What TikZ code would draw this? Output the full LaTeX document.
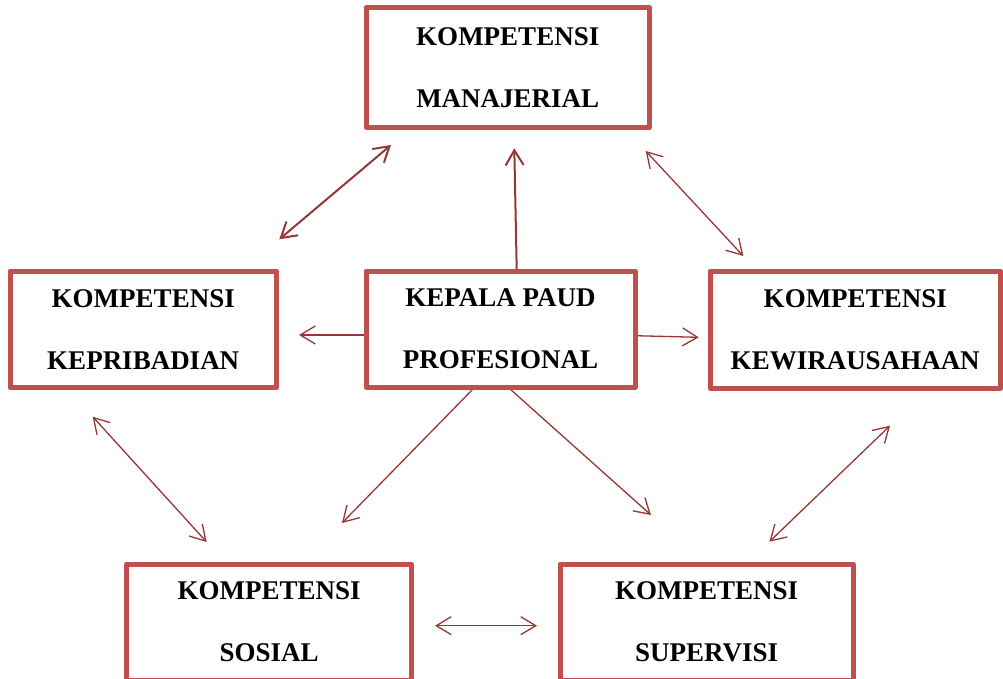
\documentclass[tikz,border=0pt]{standalone}
\usepackage{fontspec}
\setmainfont{Liberation Serif}
\usetikzlibrary{arrows.meta}
\definecolor{boxred}{HTML}{C0504D}
\definecolor{arrred}{HTML}{953735}
\tikzset{
  kbox/.style={draw=boxred, line width=5pt, line join=round, rectangle, inner sep=0pt, align=center,
    font={\fontsize{27pt}{62pt}\selectfont\bfseries}, text=black, fill=white},
  conn/.style={draw=arrred, line width=1.3pt},
  thickconn/.style={draw=arrred, line width=2pt},
  tipend/.style={-{Straight Barb[length=15pt,width=18pt]}},
  tipboth/.style={{Straight Barb[length=15pt,width=18pt]}-{Straight Barb[length=15pt,width=18pt]}}
}
\begin{document}
\begin{tikzpicture}[x=1pt,y=-1pt]
\useasboundingbox (0,0) rectangle (1003,679);
\begin{scope}
\clip (0,0) rectangle (1003,679);
% coordinates for connector ends
\coordinate (m1) at (391,145);
\coordinate (k1) at (279.3,239.3);
\coordinate (p1) at (516.7,270);
\coordinate (m2) at (514.3,148.3);
\coordinate (m3) at (645.7,151);
\coordinate (w1) at (743.3,256);
\coordinate (p2) at (366,335);
\coordinate (k2) at (299,335);
\coordinate (p3) at (635,335.7);
\coordinate (w2) at (698.7,337.3);
\coordinate (k3) at (92.7,416.7);
\coordinate (s1) at (206.6,542);
\coordinate (p4) at (473,389);
\coordinate (s2) at (342,523);
\coordinate (p5) at (510,389);
\coordinate (u1) at (651,515);
\coordinate (w3) at (890,425.7);
\coordinate (u2) at (769.4,541.7);
\coordinate (s3) at (435,625.7);
\coordinate (u3) at (537,625.7);
% connectors
\draw[thickconn, tipboth] (m1) -- (k1);
\draw[thickconn, tipend] (p1) -- (m2);
\draw[conn, tipboth] (m3) -- (w1);
\draw[conn, tipend] (p2) -- (k2);
\draw[conn, tipend] (p3) -- (w2);
\draw[conn, tipboth] (k3) -- (s1);
\draw[conn, tipend] (p4) -- (s2);
\draw[conn, tipend] (p5) -- (u1);
\draw[conn, tipboth] (w3) -- (u2);
\draw[conn, tipboth] (s3) -- (u3);
% boxes
\node[kbox, minimum width=283.5pt, minimum height=120pt] (man) at (507.75,67.5) {KOMPETENSI\\MANAJERIAL};
\node[kbox, minimum width=266.5pt, minimum height=116.5pt] (kep) at (143.25,329.25) {KOMPETENSI\\KEPRIBADIAN};
\node[kbox, minimum width=269pt, minimum height=116pt] (paud) at (500.5,329) {KEPALA PAUD\\PROFESIONAL};
\node[kbox, minimum width=290.5pt, minimum height=117pt] (kew) at (855.25,329.5) {KOMPETENSI\\KEWIRAUSAHAAN};
\node[kbox, minimum width=285pt, minimum height=116pt] (sos) at (269.2,622) {KOMPETENSI\\SOSIAL};
\node[kbox, minimum width=293.2pt, minimum height=116pt] (sup) at (706.6,622) {KOMPETENSI\\SUPERVISI};
\end{scope}
\end{tikzpicture}
\end{document}
